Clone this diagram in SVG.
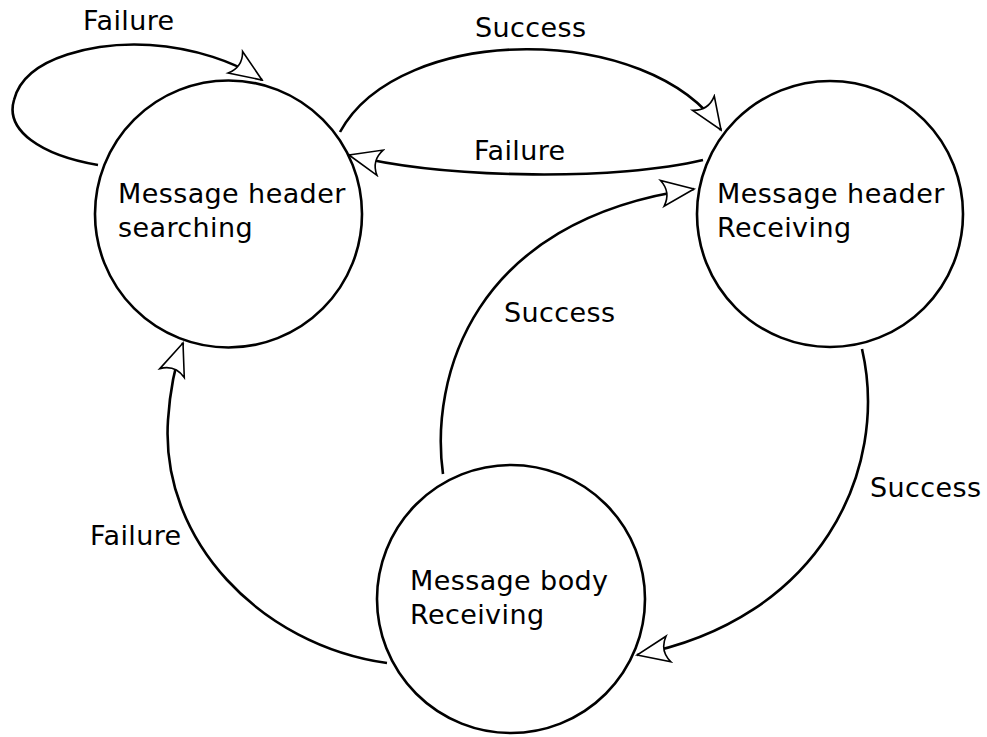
<svg xmlns="http://www.w3.org/2000/svg" width="987" height="737" viewBox="0 0 987 737">
<style>
.node{fill:#fff;stroke:#000;stroke-width:2.6}
.edge{fill:none;stroke:#000;stroke-width:2.6;marker-end:url(#arr)}
text{font-family:"DejaVu Sans","Liberation Sans",sans-serif;font-size:27px;letter-spacing:0.4px;fill:#000}
</style>
<defs>
<marker id="arr" markerUnits="userSpaceOnUse" viewBox="-34 -16 36 32" markerWidth="36" markerHeight="32" refX="0" refY="0" orient="auto">
<path d="M0,0 L-32,-13 Q-23,0 -32,13 Z" fill="#fff" stroke="#000" stroke-width="1.6" stroke-linejoin="miter"/>
</marker>
</defs>
<rect width="987" height="737" fill="#fff"/>
<g id="connectors">
<path class="edge" d="M98,165 C40,155 5,130 14,100 C25,55 100,42 150,45 C195,48 235,62 262,80"/>
<path class="edge" d="M340,132 C400,22 650,22 721,130"/>
<path class="edge" d="M703,160 C620,180 450,180 349,155"/>
<path class="edge" d="M443,474 C430,380 470,220 694,189"/>
<path class="edge" d="M862,349 C890,470 820,620 637,655"/>
<path class="edge" d="M387,663 C260,645 160,540 168,420 C170,390 175,365 183,343"/>
</g>
<g id="labels">
<text x="83" y="30">Failure</text>
<text x="475" y="37">Success</text>
<text x="474" y="160">Failure</text>
<text x="504" y="322">Success</text>
<text x="870" y="497">Success</text>
<text x="90" y="545">Failure</text>
</g>
<g id="node-searching">
<circle class="node" cx="228.5" cy="214" r="133.5"/>
<text x="118" y="203">Message header</text>
<text x="118" y="237">searching</text>
</g>
<g id="node-header-receiving">
<circle class="node" cx="830" cy="214" r="133"/>
<text x="717" y="203">Message header</text>
<text x="717" y="237">Receiving</text>
</g>
<g id="node-body-receiving">
<circle class="node" cx="511" cy="599" r="134"/>
<text x="410" y="590">Message body</text>
<text x="410" y="624">Receiving</text>
</g>
</svg>
